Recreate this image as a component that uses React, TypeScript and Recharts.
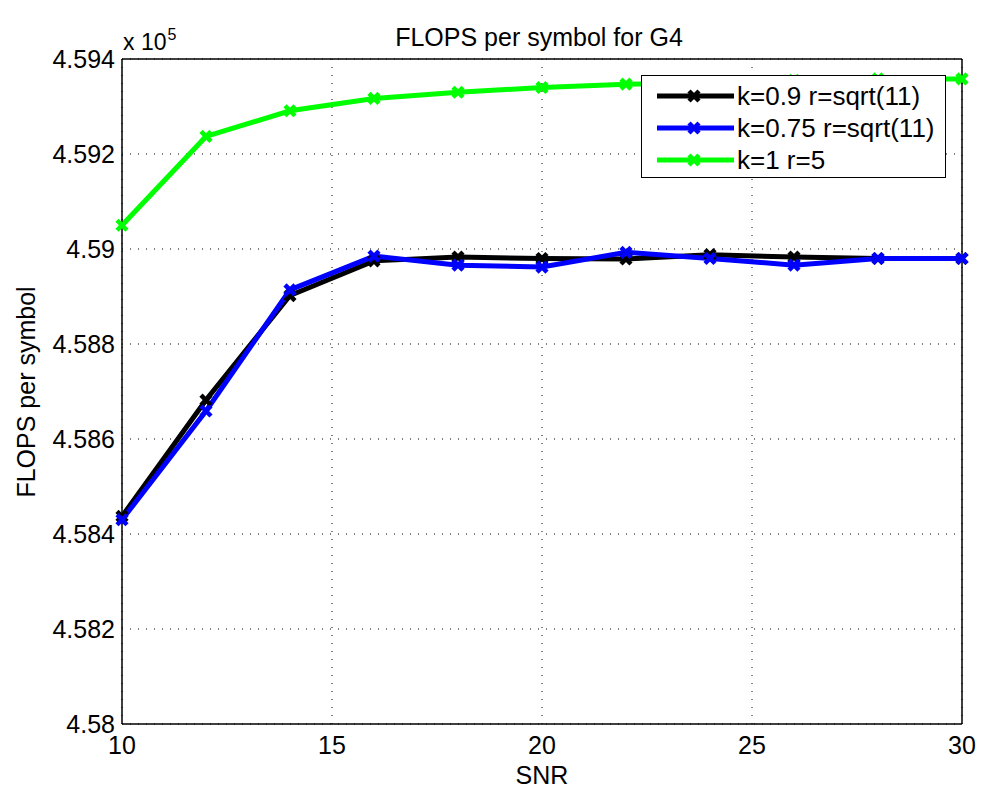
import { LineChart, Line, XAxis, YAxis, CartesianGrid } from "recharts";

// SNR values (x axis)
const SNR = [10, 12, 14, 16, 18, 20, 22, 24, 26, 28, 30];
// FLOPS per symbol, in units of 1e5
const K09 = [4.58437, 4.58682, 4.58902, 4.58975, 4.58983, 4.5898, 4.58979, 4.58988, 4.58983, 4.5898, 4.5898];
const K075 = [4.5843, 4.58659, 4.58914, 4.58985, 4.58966, 4.58962, 4.58993, 4.5898, 4.58966, 4.5898, 4.5898];
const K1 = [4.5905, 4.59237, 4.59291, 4.59317, 4.5933, 4.5934, 4.59347, 4.5935, 4.59355, 4.59358, 4.59358];

const X_TICKS = [10, 15, 20, 25, 30];
const Y_TICKS = [4.58, 4.582, 4.584, 4.586, 4.588, 4.59, 4.592, 4.594];

const SERIES = [
  { key: "k09", name: "k=0.9 r=sqrt(11)", color: "#000000" },
  { key: "k075", name: "k=0.75 r=sqrt(11)", color: "#0000ff" },
  { key: "k1", name: "k=1 r=5", color: "#00ff00" },
];

const data = SNR.map((snr, i) => ({
  snr,
  k09: K09[i],
  k075: K075[i],
  k1: K1[i],
}));

const FONT = "'Liberation Sans', Arial, Helvetica, sans-serif";
const FS = 25;

// thick "x" marker, like matlab's 'x' with a wide line
function XMark(props: any) {
  const { cx, cy, stroke } = props;
  if (cx == null || cy == null) return null;
  const s = 5;
  return (
    <g>
      <line x1={cx - s} y1={cy - s} x2={cx + s} y2={cy + s} stroke={stroke} strokeWidth={4.5} />
      <line x1={cx - s} y1={cy + s} x2={cx + s} y2={cy - s} stroke={stroke} strokeWidth={4.5} />
    </g>
  );
}

function LegendBox() {
  return (
    <div style={{
      position: "absolute", left: 641, top: 75, width: 305, height: 103,
      border: "1px solid #000", background: "#fff", boxSizing: "border-box",
      paddingTop: 4, fontFamily: FONT,
    }}>
      {SERIES.map((s) => (
        <div key={s.key} style={{ display: "flex", alignItems: "center", height: 32 }}>
          <svg width={95} height={20} style={{ flex: "none" }}>
            <line x1={15} y1={10} x2={92} y2={10} stroke={s.color} strokeWidth={5} />
            <XMark cx={52} cy={10} stroke={s.color} />
          </svg>
          <span style={{ fontSize: 26, color: "#000", whiteSpace: "nowrap" }}>{s.name}</span>
        </div>
      ))}
    </div>
  );
}

export default function App() {
  return (
    <div style={{ position: "absolute", left: 0, top: 0, width: 984, height: 799, background: "#fff", fontFamily: FONT }}>
      <LineChart
        width={984}
        height={799}
        data={data}
        margin={{ top: 59, right: 22, left: 62, bottom: 45 }}
        style={{ fontFamily: FONT }}
      >
        <CartesianGrid xAxisId="b" yAxisId="l" stroke="#000" strokeDasharray="1 7" strokeWidth={1} />
        {/* frame with inward ticks */}
        <XAxis xAxisId="b2" dataKey="snr" type="number" domain={[10, 30]} ticks={X_TICKS}
          height={1} mirror tick={false} tickSize={8} tickLine={{ stroke: "#000" }} axisLine={{ stroke: "#000", strokeWidth: 1.5 }} />
        <XAxis xAxisId="b" dataKey="snr" type="number" domain={[10, 30]} ticks={X_TICKS}
          height={30} tickLine={false} axisLine={false} tickSize={0} tickMargin={12}
          tick={{ fontSize: FS, fill: "#000" }} />
        <XAxis xAxisId="t" dataKey="snr" type="number" orientation="top" domain={[10, 30]} ticks={X_TICKS}
          height={1} mirror tick={false} tickSize={8} tickLine={{ stroke: "#000" }} axisLine={{ stroke: "#000", strokeWidth: 1.5 }} />
        <YAxis yAxisId="l2" type="number" domain={[4.58, 4.594]} ticks={Y_TICKS}
          width={1} mirror tick={false} tickSize={8} tickLine={{ stroke: "#000" }} axisLine={{ stroke: "#000", strokeWidth: 1.5 }} />
        <YAxis yAxisId="l" type="number" domain={[4.58, 4.594]} ticks={Y_TICKS}
          width={60} tickLine={false} axisLine={false} tickSize={0} tickMargin={7}
          tick={{ fontSize: FS, fill: "#000" }}
          tickFormatter={(v: number) => String(Number(v.toFixed(3)))} />
        <YAxis yAxisId="r" type="number" orientation="right" domain={[4.58, 4.594]} ticks={Y_TICKS}
          width={1} mirror tick={false} tickSize={8} tickLine={{ stroke: "#000" }} axisLine={{ stroke: "#000", strokeWidth: 1.5 }} />
        {SERIES.map((s) => (
          <Line
            key={s.key}
            xAxisId="b"
            yAxisId="l"
            dataKey={s.key}
            name={s.name}
            stroke={s.color}
            strokeWidth={5}
            type="linear"
            dot={<XMark />}
            activeDot={false}
            isAnimationActive={false}
          />
        ))}
      </LineChart>
      <div style={{
        position: "absolute", left: 539, top: 37, transform: "translate(-50%, -50%)",
        fontSize: FS, color: "#000", whiteSpace: "nowrap",
      }}>
        FLOPS per symbol for G4
      </div>
      <div style={{ position: "absolute", left: 123, top: 28, fontSize: 23, color: "#000", whiteSpace: "nowrap", lineHeight: "28px" }}>
        x 10<span style={{ fontSize: 16, position: "relative", top: -10, marginLeft: 1 }}>5</span>
      </div>
      <div style={{
        position: "absolute", left: 26, top: 392, transform: "translate(-50%, -50%) rotate(-90deg)",
        fontSize: FS, color: "#000", whiteSpace: "nowrap",
      }}>
        FLOPS per symbol
      </div>
      <div style={{
        position: "absolute", left: 542, top: 775, transform: "translate(-50%, -50%)",
        fontSize: FS, color: "#000",
      }}>
        SNR
      </div>
      <LegendBox />
    </div>
  );
}
